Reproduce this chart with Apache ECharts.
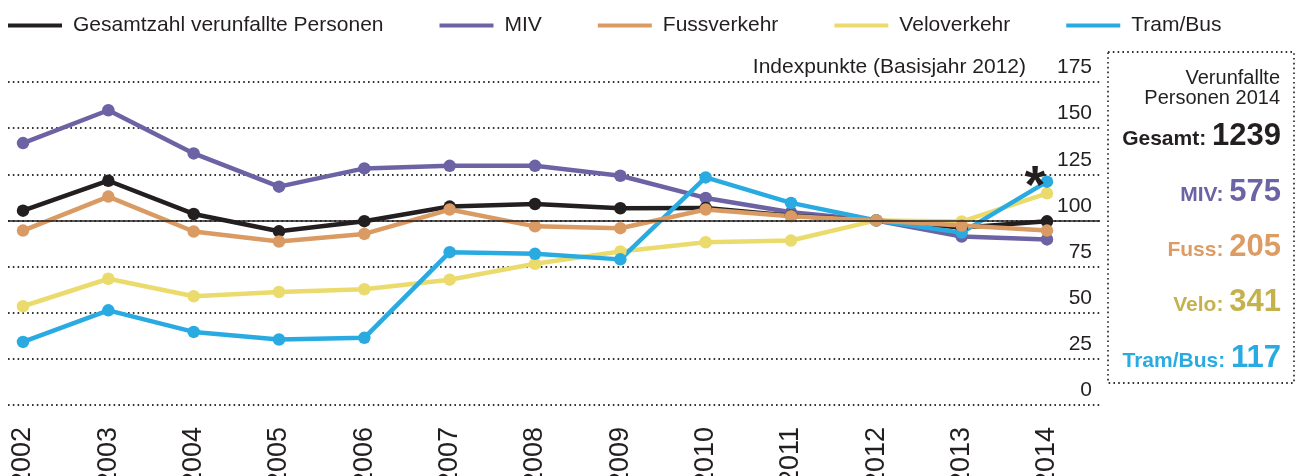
<!DOCTYPE html>
<html>
<head>
<meta charset="utf-8">
<script src="https://cdn.jsdelivr.net/npm/echarts@6/dist/echarts.min.js"></script>
<style>
html,body{margin:0;padding:0;background:#fff;}
#chart{width:1310px;height:476px;}
</style>
</head>
<body>
<div id="chart"></div>
<script>
// ---- data ----
var years = ['2002','2003','2004','2005','2006','2007','2008','2009','2010','2011','2012','2013','2014'];
var gesamt = [105.3, 121.5, 103.5, 94.1, 99.6, 107.5, 108.9, 106.6, 106.8, 102.5, 100, 96.1, 99.5];
var miv    = [141.9, 159.7, 136.3, 118.3, 128.2, 129.6, 129.6, 124.2, 112.2, 104.4, 100, 91.3, 89.7];
var fuss   = [94.5, 112.9, 94.0, 88.6, 92.7, 105.9, 96.8, 95.8, 105.9, 102.3, 100, 97.2, 94.5];
var velo   = [53.5, 68.4, 58.9, 61.2, 62.7, 67.9, 76.5, 83.2, 88.2, 89.1, 100, 99.4, 114.7];
var tram   = [34.2, 51.3, 39.6, 35.5, 36.4, 82.8, 81.9, 78.9, 123.3, 109.5, 100, 93.4, 121.0];
var yTicks = [0, 25, 50, 75, 100, 125, 150, 175];
var seriesNames = ['Gesamtzahl verunfallte Personen', 'MIV', 'Fussverkehr', 'Veloverkehr', 'Tram/Bus'];
var boxTitle = ['Verunfallte', 'Personen 2014'];
var boxLabels = ['Gesamt:', 'MIV:', 'Fuss:', 'Velo:', 'Tram/Bus:'];
var boxValues = ['1239', '575', '205', '341', '117'];
var axisTitle = 'Indexpunkte (Basisjahr 2012)';

// ---- styles ----
var FONT = '"Liberation Sans", Arial, Helvetica, sans-serif';
var TXT = '#231f20';
var colors = {
  gesamt: '#231f20',
  miv: '#6b63a4',
  fuss: '#d99b63',
  velo: '#ebdb6c',
  tram: '#29abe2'
};
var boxColors = ['#231f20', '#6b63a4', '#dd9c63', '#c4b24c', '#29abe2'];

function lineSeries(name, data, color) {
  return {
    name: name,
    type: 'line',
    data: data,
    xAxisIndex: 0,
    yAxisIndex: 0,
    symbol: 'circle',
    symbolSize: 12.5,
    showSymbol: true,
    lineStyle: { color: color, width: 4.5 },
    itemStyle: { color: color },
    emphasis: { disabled: true },
    animation: false
  };
}

var tramData = tram.map(function (v, i) {
  if (i === tram.length - 1) {
    return {
      value: v,
      label: {
        show: true,
        formatter: '*',
        position: 'inside',
        offset: [-12, 6],
        fontSize: 54,
        fontWeight: 'bold',
        fontFamily: FONT,
        color: TXT
      }
    };
  }
  return v;
});

var chart = echarts.init(document.getElementById('chart'), null, { renderer: 'canvas' });

var graphics = [];
graphics.push({
  type: 'text',
  style: { text: axisTitle, x: 1026, y: 67, align: 'right', verticalAlign: 'middle',
           font: '21px ' + FONT, fill: TXT }
});
graphics.push({
  type: 'rect',
  shape: { x: 1108, y: 52, width: 186, height: 331 },
  style: { fill: 'none', stroke: '#333', lineWidth: 1.8, lineDash: [1.6, 3.2] }
});
graphics.push({
  type: 'text',
  style: { text: boxTitle.join('\n'), x: 1280, y: 88, align: 'right', verticalAlign: 'middle',
           font: '20px ' + FONT, fill: TXT, lineHeight: 20 }
});
var boxY = [136, 192, 247, 302, 358];
boxLabels.forEach(function (lab, i) {
  graphics.push({
    type: 'text',
    style: {
      text: '{l|' + lab + ' }{n|' + boxValues[i] + '}',
      x: 1281, y: boxY[i], align: 'right', verticalAlign: 'middle',
      rich: {
        l: { fontSize: 21, fontWeight: 'bold', fontFamily: FONT, fill: boxColors[i], verticalAlign: 'bottom', padding: [0, 0, 2, 0] },
        n: { fontSize: 31, fontWeight: 'bold', fontFamily: FONT, fill: boxColors[i], verticalAlign: 'bottom' }
      }
    }
  });
});

var option = {
  backgroundColor: '#fff',
  animation: false,
  textStyle: { fontFamily: FONT },
  legend: {
    data: seriesNames,
    left: 3,
    top: 10,
    icon: 'rect',
    itemWidth: 54,
    itemHeight: 4,
    itemGap: 56,
    selectedMode: false,
    textStyle: { fontSize: 21, color: TXT, fontFamily: FONT, padding: [0, 0, 0, 6] }
  },
  grid: [
    { left: 23, right: 263, top: 82, bottom: 71, containLabel: false, outerBoundsMode: 'none' },
    { left: 8, right: 210, top: 82, bottom: 71, containLabel: false, outerBoundsMode: 'none' }
  ],
  xAxis: [
    {
      type: 'category', gridIndex: 0, data: years, boundaryGap: false,
      axisLine: { show: false }, axisTick: { show: false },
      axisLabel: { rotate: 90, fontSize: 27, color: TXT, margin: 22, fontFamily: FONT },
      splitLine: { show: false }
    },
    { type: 'value', gridIndex: 1, min: 0, max: 1, show: false }
  ],
  yAxis: [
    { type: 'value', gridIndex: 0, min: 0, max: 175, interval: 25, show: false },
    {
      type: 'value', gridIndex: 1, position: 'right', min: 0, max: 175, interval: 25,
      axisLine: { show: false }, axisTick: { show: false },
      axisLabel: {
        inside: true, margin: 8, fontSize: 21, color: TXT, fontFamily: FONT,
        verticalAlign: 'bottom', padding: [0, 0, 4, 0],
        customValues: yTicks
      },
      splitLine: { show: true, lineStyle: { color: '#333', width: 1.8, type: [1.6, 3.2] } }
    }
  ],
  series: [
    {
      name: '_ref', type: 'line', xAxisIndex: 1, yAxisIndex: 1,
      data: [[0, 100], [1, 100]], showSymbol: false, lineStyle: { width: 0 },
      silent: true,
      markLine: {
        silent: true, symbol: 'none', label: { show: false },
        lineStyle: { color: '#231f20', width: 1.6, type: 'solid' },
        data: [{ yAxis: 100 }]
      }
    },
    lineSeries(seriesNames[1], miv, colors.miv),
    lineSeries(seriesNames[0], gesamt, colors.gesamt),
    lineSeries(seriesNames[3], velo, colors.velo),
    lineSeries(seriesNames[4], tramData, colors.tram),
    lineSeries(seriesNames[2], fuss, colors.fuss)
  ],
  graphic: graphics
};
chart.setOption(option);
</script>
</body>
</html>
